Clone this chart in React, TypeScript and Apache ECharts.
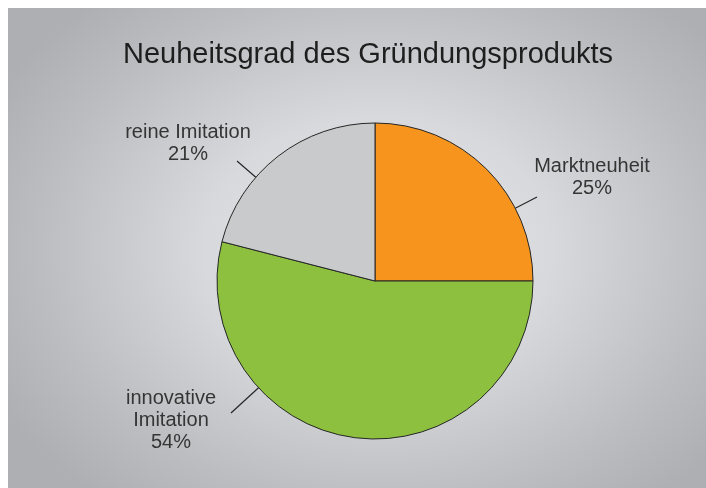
import React, { useEffect, useRef } from 'react';
import * as echarts from 'echarts';

// ---- data ----
const categories = ['Marktneuheit', 'innovative\nImitation', 'reine Imitation'];
const values = [25, 54, 21];
const titleText = 'Neuheitsgrad des Gründungsprodukts';

// ---- styles / layout ----
const colors = ['#F7941E', '#8DC03F', '#C9CACC'];
const FONT = '"Liberation Sans", Arial, sans-serif';
const PIE_CENTER = [367, 273];
const PIE_RADIUS = 158;
// label centres (chart px) and leader-line end offsets relative to label centre
const LABEL_POS = [
  [584, 168],
  [163, 411],
  [180, 134],
];
const LINE_END = [
  [-55, 21],
  [60, -6],
  [49, 19],
];

export default function App() {
  const ref = useRef<HTMLDivElement>(null);

  useEffect(() => {
    if (!ref.current) return;
    const chart = echarts.init(ref.current, null, { renderer: 'svg' });
    chart.setOption({
      animation: false,
      title: {
        text: titleText,
        left: 110,
        top: 25,
        textAlign: 'left',
        textStyle: {
          fontFamily: FONT,
          fontSize: 29,
          fontWeight: 'normal',
          color: '#1e1e1e',
        },
      },
      series: [
        {
          type: 'pie',
          center: PIE_CENTER,
          radius: PIE_RADIUS,
          startAngle: 90,
          clockwise: true,
          avoidLabelOverlap: false,
          emphasis: { scale: false },
          data: categories.map((name, i) => ({
            name,
            value: values[i],
            itemStyle: { color: colors[i] },
          })),
          itemStyle: { borderColor: '#262626', borderWidth: 1 },
          label: {
            show: true,
            position: 'outside',
            formatter: '{b}\n{c}%',
            fontFamily: FONT,
            fontSize: 20,
            lineHeight: 22,
            color: '#353535',
          },
          labelLine: {
            show: true,
            length: 20,
            length2: 0,
            lineStyle: { color: '#262626', width: 1.2 },
          },
          labelLayout: (p: any) => {
            const i = p.dataIndex;
            const [lx, ly] = LABEL_POS[i];
            const ex = lx + LINE_END[i][0];
            const ey = ly + LINE_END[i][1];
            const cx = PIE_CENTER[0];
            const cy = PIE_CENTER[1];
            const dx = ex - cx;
            const dy = ey - cy;
            const len = Math.hypot(dx, dy);
            const sx = cx + (PIE_RADIUS * dx) / len;
            const sy = cy + (PIE_RADIUS * dy) / len;
            return {
              x: lx,
              y: ly,
              align: 'center',
              verticalAlign: 'middle',
              labelLinePoints: [
                [sx, sy],
                [ex, ey],
                [ex, ey],
              ],
            };
          },
        },
      ],
    });
    return () => chart.dispose();
  }, []);

  return (
    <div
      ref={ref}
      style={{
        position: 'fixed',
        left: 8,
        top: 8,
        width: 698,
        height: 480,
        background:
          'radial-gradient(ellipse 62% 68% at 53% 50%, #e6e7e9 0%, #d8d9dc 40%, #bcbdc1 78%, #aeafb3 100%)',
      }}
    />
  );
}
